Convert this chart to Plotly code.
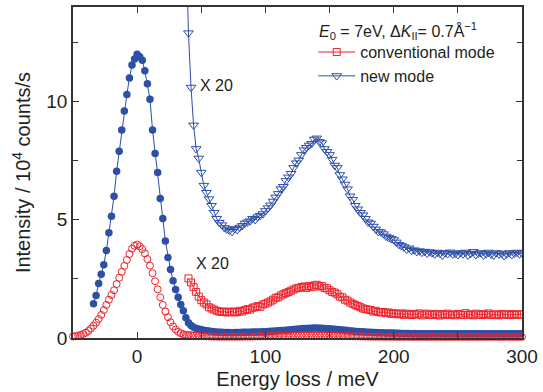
import plotly.graph_objects as go

# ---------------- data ----------------
STEP = 2  # meV spacing of the measurement points

# conventional mode (open red circles), x from -50 to 300 meV
conv_start = -50
conv_y = [
    0.06, 0.08, 0.10, 0.13, 0.17, 0.22, 0.30, 0.40, 0.52, 0.65,
    0.80, 0.98, 1.18, 1.40, 1.62, 1.82, 2.02, 2.28, 2.55, 2.80,
    3.05, 3.30, 3.55, 3.78, 3.90,
    3.95,
    3.88, 3.76, 3.58, 3.34, 3.06, 2.74, 2.40, 2.06, 1.72, 1.40,
    1.12, 0.88, 0.67, 0.49, 0.36, 0.26, 0.20, 0.16, 0.13,
    0.126, 0.117, 0.107, 0.097, 0.088, 0.08, 0.075, 0.071, 0.065, 0.062,
    0.06, 0.058, 0.056, 0.055, 0.056, 0.054, 0.055, 0.056, 0.054, 0.055,
    0.058, 0.056, 0.059, 0.061, 0.06, 0.064, 0.065, 0.068, 0.066, 0.071,
    0.073, 0.075, 0.078, 0.081, 0.085, 0.086, 0.09, 0.093, 0.095, 0.098,
    0.1, 0.103, 0.105, 0.106, 0.108, 0.109, 0.106, 0.11, 0.108, 0.111,
    0.113, 0.109, 0.11, 0.106, 0.105, 0.101, 0.098, 0.096, 0.093, 0.088,
    0.086, 0.081, 0.079, 0.075, 0.073, 0.07, 0.068, 0.065, 0.063, 0.061,
    0.06, 0.059, 0.056, 0.058, 0.055, 0.054, 0.055, 0.053, 0.054, 0.051,
    0.053, 0.051, 0.05, 0.052, 0.049, 0.051, 0.05, 0.048, 0.051, 0.05,
    0.049, 0.052, 0.05, 0.048, 0.05, 0.051, 0.049, 0.05, 0.052, 0.049,
    0.05, 0.048, 0.051, 0.05, 0.049, 0.052, 0.05, 0.049, 0.051, 0.048,
    0.05, 0.051, 0.049, 0.05, 0.052, 0.048, 0.05, 0.051, 0.049, 0.05,
    0.051, 0.049, 0.05, 0.048, 0.052, 0.05, 0.049, 0.051, 0.05, 0.049,
    0.05,
]

# new mode (filled blue circles), x from -34 to 300 meV
new_start = -34
new_y = [
    1.45, 1.80, 2.30, 2.70, 3.10, 3.70, 4.45, 5.15, 6.00, 7.05,
    7.90, 8.80, 9.60, 10.30, 11.00, 11.55, 11.80,
    12.00,
    11.90, 11.75, 11.30, 10.75, 10.10, 8.80, 7.80, 7.00, 5.90, 5.05,
    4.10, 3.40, 2.90, 2.42, 2.05, 1.72, 1.42, 1.15,
    0.86, 0.645, 0.53, 0.455, 0.40, 0.38, 0.35, 0.323, 0.308, 0.294,
    0.28, 0.265, 0.253, 0.244, 0.239, 0.233, 0.23, 0.228, 0.225, 0.231,
    0.229, 0.234, 0.238, 0.243, 0.245, 0.248, 0.252, 0.25, 0.256, 0.259,
    0.263, 0.269, 0.275, 0.281, 0.289, 0.298, 0.305, 0.315, 0.32, 0.333,
    0.34, 0.348, 0.36, 0.37, 0.376, 0.388, 0.398, 0.403, 0.408, 0.411,
    0.42, 0.423, 0.415, 0.413, 0.4, 0.394, 0.388, 0.378, 0.365, 0.36,
    0.345, 0.336, 0.325, 0.315, 0.3, 0.293, 0.28, 0.273, 0.265, 0.26,
    0.253, 0.245, 0.243, 0.236, 0.23, 0.225, 0.224, 0.22, 0.215, 0.213,
    0.21, 0.208, 0.203, 0.198, 0.195, 0.193, 0.188, 0.19, 0.185, 0.186,
    0.183, 0.184, 0.181, 0.183, 0.179, 0.182, 0.18, 0.178, 0.181, 0.179,
    0.175, 0.18, 0.178, 0.182, 0.178, 0.179, 0.176, 0.18, 0.178, 0.181,
    0.175, 0.179, 0.183, 0.176, 0.179, 0.18, 0.175, 0.178, 0.181, 0.177,
    0.175, 0.18, 0.178, 0.179, 0.174, 0.178, 0.18, 0.176, 0.179, 0.181,
    0.178, 0.18,
]

# conventional mode x 20 (open red squares), x from 40 to 300 meV
conv20_start = 40
conv20_y = [
    2.52, 2.35, 2.15, 1.95, 1.75, 1.6, 1.5, 1.42, 1.3, 1.25,
    1.2, 1.15, 1.12, 1.1, 1.12, 1.08, 1.1, 1.12, 1.08, 1.1,
    1.15, 1.12, 1.18, 1.22, 1.2, 1.28, 1.3, 1.35, 1.32, 1.42,
    1.45, 1.5, 1.55, 1.62, 1.7, 1.72, 1.8, 1.85, 1.9, 1.95,
    2.0, 2.05, 2.1, 2.12, 2.15, 2.18, 2.12, 2.2, 2.15, 2.22,
    2.25, 2.18, 2.2, 2.12, 2.1, 2.02, 1.95, 1.92, 1.85, 1.75,
    1.72, 1.62, 1.58, 1.5, 1.45, 1.4, 1.35, 1.3, 1.25, 1.22,
    1.2, 1.18, 1.12, 1.15, 1.1, 1.08, 1.1, 1.05, 1.08, 1.02,
    1.05,
    1.02, 1.0, 1.04, 0.98, 1.03, 1.0, 0.97, 1.02, 0.99, 1.04,
    0.96, 1.0, 1.03, 0.98, 0.97, 1.02, 0.99, 0.95, 1.01, 0.98,
    1.03, 0.97, 1.0, 0.96, 1.02, 0.99, 0.97, 1.05, 0.98, 1.0,
    0.96, 1.03, 0.99, 0.97, 1.01, 0.98, 1.04, 0.97, 1.0, 0.98,
    0.96, 1.02, 0.99, 1.0, 0.97, 1.01, 0.98, 1.0, 0.99, 1.0,
]

# new mode x 20 (open blue triangles), x from 38 to 300 meV
new20_start = 38
new20_y = [
    17.0, 12.9, 10.6, 9.0, 8.0, 7.6, 7.0, 6.45, 6.15, 5.88,
    5.6, 5.3, 5.05, 4.88, 4.78, 4.66, 4.6, 4.55, 4.5, 4.62,
    4.58, 4.68, 4.75, 4.85, 4.9, 4.95, 5.05, 5.0, 5.12, 5.18,
    5.25, 5.38, 5.5, 5.62, 5.78, 5.95, 6.1, 6.3, 6.4, 6.65,
    6.8, 6.95, 7.2, 7.4, 7.52, 7.75, 7.95, 8.05, 8.15, 8.22,
    8.4, 8.45, 8.3, 8.25, 8.0, 7.88, 7.75, 7.55, 7.3, 7.2,
    6.9, 6.72, 6.5, 6.3, 6.0, 5.85, 5.6, 5.45, 5.3, 5.2,
    5.05, 4.9, 4.85, 4.72, 4.6, 4.5, 4.48, 4.4, 4.3, 4.25,
    4.2, 4.15, 4.05, 3.95, 3.9, 3.85, 3.75, 3.8, 3.7, 3.72,
    3.65, 3.68, 3.62, 3.66, 3.58, 3.64, 3.6, 3.55, 3.62, 3.58,
    3.5, 3.6, 3.56, 3.63, 3.55, 3.58, 3.52, 3.6, 3.55, 3.62,
    3.5, 3.57, 3.65, 3.52, 3.58, 3.6, 3.5, 3.56, 3.62, 3.54,
    3.5, 3.6, 3.55, 3.58, 3.48, 3.55, 3.6, 3.52, 3.58, 3.62,
    3.55, 3.6,
]

x_tickvals = [0, 100, 200, 300]
y_tickvals = [0, 5, 10]


def grid(start, n):
    return [start + STEP * i for i in range(n)]


for name, s, ys in [("conv", conv_start, conv_y), ("new", new_start, new_y),
                    ("conv20", conv20_start, conv20_y), ("new20", new20_start, new20_y)]:
    last = s + STEP * (len(ys) - 1)
    if last != 300:
        raise SystemExit(f"{name}: length {len(ys)} ends at {last}")

BLUE = "#2E4FA6"
RED = "#F0202A"
INK = "#231F20"
FONT = "Liberation Sans, Arial, sans-serif"

fig = go.Figure()

fig.add_trace(go.Scatter(
    x=grid(new_start, len(new_y)), y=new_y, mode="lines+markers",
    line=dict(color=BLUE, width=1),
    marker=dict(symbol="circle", size=7.5, color=BLUE),
    showlegend=False))

fig.add_trace(go.Scatter(
    x=grid(conv_start, len(conv_y)), y=conv_y, mode="markers",
    marker=dict(symbol="circle-open", size=7, color=RED, line=dict(width=1)),
    cliponaxis=False, showlegend=False))

fig.add_trace(go.Scatter(
    x=grid(conv20_start, len(conv20_y)), y=conv20_y, mode="lines+markers",
    name="conventional mode",
    line=dict(color=RED, width=1),
    marker=dict(symbol="square-open", size=7, color=RED, line=dict(width=1)),
    legendrank=1))

fig.add_trace(go.Scatter(
    x=grid(new20_start, len(new20_y)), y=new20_y, mode="lines+markers",
    name="new mode",
    line=dict(color=BLUE, width=1),
    marker=dict(symbol="triangle-down-open", size=8.5, color=BLUE, line=dict(width=1)),
    legendrank=2))

fig.add_annotation(x=62, y=10.67, text="X 20", showarrow=False,
                   font=dict(size=16, color=INK, family=FONT))
fig.add_annotation(x=58.5, y=3.15, text="X 20", showarrow=False,
                   font=dict(size=16, color=INK, family=FONT))
fig.add_annotation(xref="paper", yref="paper", x=0.543, y=0.927, xanchor="left",
                   yanchor="middle", showarrow=False,
                   text="<i>E</i><sub>0</sub> = 7eV, Δ<i>K</i><sub>II</sub>= 0.7Å<sup>−1</sup>",
                   font=dict(size=16, color=INK, family=FONT))

axis_common = dict(
    showline=True, linecolor="#333333", linewidth=1.5, mirror="ticks",
    ticks="inside", ticklen=6, tickwidth=1.2, tickcolor="#333333",
    showgrid=False, zeroline=False, ticklabeloverflow="allow",
    tickfont=dict(size=19, color=INK, family=FONT),
)

fig.update_xaxes(
    range=[-50, 300], tickvals=x_tickvals, ticktext=[str(v) for v in x_tickvals],
    minor=dict(dtick=50, tick0=0, ticks="inside", ticklen=6, tickcolor="#333333", tickwidth=1.2),
    title=dict(text="Energy loss / meV", font=dict(size=20, color=INK, family=FONT), standoff=6),
    **axis_common)
fig.update_yaxes(
    range=[0, 14], tickvals=y_tickvals, ticktext=[str(v) for v in y_tickvals],
    minor=dict(dtick=2.5, tick0=0, ticks="inside", ticklen=5, tickcolor="#333333", tickwidth=1.2),
    title=dict(text="Intensity / 10<sup>4</sup> counts/s", font=dict(size=20, color=INK, family=FONT), standoff=10),
    **axis_common)

fig.update_layout(
    width=543, height=392,
    margin=dict(l=73, r=14, t=5, b=53),
    paper_bgcolor="white", plot_bgcolor="white",
    font=dict(family=FONT, color=INK),
    legend=dict(x=0.535, y=0.915, xanchor="left", yanchor="top",
                bgcolor="rgba(0,0,0,0)", font=dict(size=16, color=INK, family=FONT),
                itemwidth=37, tracegroupgap=0),
)

fig.write_html("out.html")
